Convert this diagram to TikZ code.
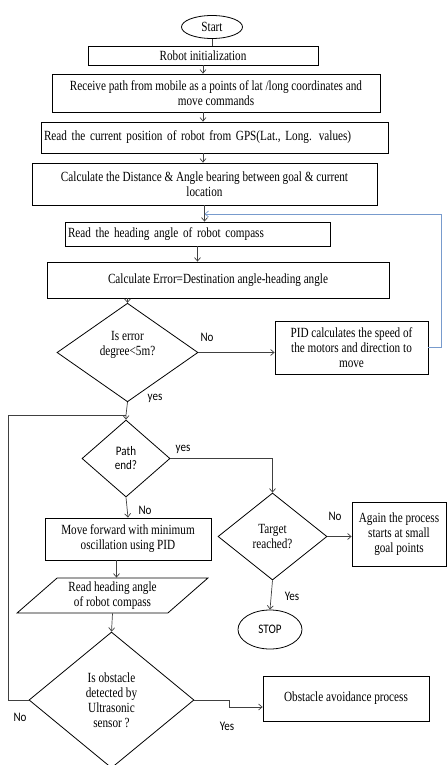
\documentclass[tikz,border=0pt]{standalone}
\usepackage{fontspec}
\setmainfont{Liberation Serif}[FakeStretch=0.8]
\newfontfamily\labelfont{Carlito}[FakeStretch=0.85]
\usetikzlibrary{shapes.geometric, calc, arrows.meta}

\definecolor{loopblue}{RGB}{120,155,205}

\begin{document}
\begin{tikzpicture}[x=1pt, y=-1pt,
      every node/.style={font=\fontsize{14}{15}\selectfont},
      box/.style={
        rectangle,
        draw,
        line width=0.8pt,
        inner sep=3pt,
        align=center
      },
      decision/.style={diamond, draw, line width=0.8pt, inner sep=0pt, align=center},
      terminal/.style={ellipse, draw, line width=0.8pt, inner sep=0pt},
      io/.style={trapezium, trapezium left angle=45, trapezium right angle=135,
        trapezium stretches=true, draw, line width=0.8pt, align=center},
      tag/.style={font=\labelfont\fontsize{13}{14}\selectfont},
      flow/.style={line width=0.7pt, draw=black!75},
      >={Straight Barb[length=3.5pt,width=6pt]}]

    \useasboundingbox (0,0) rectangle (447,765);

    % main column
    \node[terminal, minimum width=61pt, minimum height=23pt] (start) at (212,27) {Start};
    \node[box, minimum width=230pt, minimum height=19pt] (init) at (203,55.5) {Robot initialization};
    \node[box, minimum width=328pt, minimum height=38pt] (path) at (216,93)
      {Receive path from mobile as a points of lat /long coordinates and\\ move commands};
    \node[box, minimum height=31pt, text width=341pt, align=left] (gps) at (214.5,137.5)
      {Read the current position of robot from GPS(Lat., Long. values)};
    \node[box, minimum width=345pt, minimum height=42pt] (dist) at (204.5,184)
      {Calculate the Distance \& Angle bearing between goal \& current\\ location};
    \node[box, minimum height=24pt, text width=259pt, align=left] (head) at (197.5,234)
      {Read the heading angle of robot compass};
    \node[box, minimum width=342pt, minimum height=36pt] (err) at (218,280)
      {Calculate Error=Destination angle-heading angle};
    \node[decision, minimum width=141pt, minimum height=81pt] (errchk) at (127.5,352.5)
      {Is error\\ degree<5m?\\[4pt]};
    \node[box, minimum width=153pt, minimum height=53pt] (pid) at (351.5,347.5)
      {PID calculates the speed of\\ the motors and direction to\\ move};

    % path following
    \node[decision, tag, minimum width=88pt, minimum height=77pt] (pathend) at (126,458.5)
      {Path\\ end?};
    \node[decision, minimum width=109pt, minimum height=87pt] (target) at (272.5,536.5)
      {Target\\ reached?};
    \node[box, minimum width=94pt, minimum height=64pt] (again) at (399,534)
      {Again the process\\ starts at small\\ goal points};
    \node[box, minimum width=166pt, minimum height=42pt] (move) at (128,539)
      {Move forward with minimum\\ oscillation using PID};
    \node[io, minimum width=191pt, minimum height=35pt] (readhead) at (112.5,595.5)
      {Read heading angle\\ of robot compass};
    \node[terminal, tag, minimum width=64pt, minimum height=39pt] (stop) at (270,629.5) {STOP};
    \node[decision, minimum width=165pt, minimum height=136pt] (obst) at (111.5,700)
      {Is obstacle\\ detected by\\ Ultrasonic\\ sensor ?};
    \node[box, minimum width=166pt, minimum height=45pt] (avoid) at (346,698.5)
      {Obstacle avoidance process};

    \coordinate (join1) at (dist.south |- 0,214);
    \coordinate (join2) at (pathend.north |- 0,415);

    % connectors
    \draw[flow] (start.south) -- (start.south |- init.north);
    \draw[flow,->] (init.south) -- (init.south |- path.north);
    \draw[flow,->] (init.south |- path.south) -- (init.south |- gps.north);
    \draw[flow,->] (init.south |- gps.south) -- (init.south |- dist.north);
    \draw[flow,->] (dist.south) -- (dist.south |- head.north);
    \draw[flow,->] (head.south) -- (head.south |- err.north);
    \draw[flow,->] (errchk.north |- err.south) -- (errchk.north);
    \draw[flow,->] (errchk.east) -- (errchk.east -| pid.west);
    \draw[line width=0.7pt, draw=loopblue, ->] (pid.east) -- ++(13,0) |- (join1);
    \draw[flow,->] (errchk.south) -- (join2) -- (pathend.north);
    \draw[flow,->] (pathend.east) -| (target.north);
    \draw[flow,->] (pathend.south) -- (move.north);
    \draw[flow,->] ([xshift=4pt]move.south -| readhead.north) -- ([xshift=4pt]readhead.north);
    \draw[flow,->] (readhead.south) -- (obst.north);
    \draw[flow,->] (target.east) -- (target.east -| again.west);
    \draw[flow,->] (target.south) -- (stop.north);
    \draw[flow] (obst.west) -- ++(-20,0) |- (join2);
    \draw[flow,->] (obst.east) -- ++(35,0) |- ([yshift=-8.5pt]avoid.west);

    % labels
    \node[tag] (noerr) at (207,337) {No};
    \node[tag] (yeserr) at (155,398) {yes};
    \node[tag] (yespath) at (183,449) {yes};
    \node[tag] (nopath) at (145,510) {No};
    \node[tag] (notarget) at (335,516) {No};
    \node[tag] (yestarget) at (292,596) {Yes};
    \node[tag] (noobst) at (20,717) {No};
    \node[tag] (yesobst) at (227,726) {Yes};
  \end{tikzpicture}
\end{document}
